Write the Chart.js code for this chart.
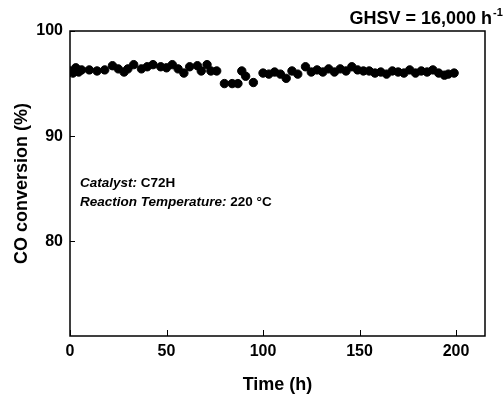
<!DOCTYPE html>
<html lang="en">
<head>
  <meta charset="UTF-8" />
  <title>CO conversion vs time</title>
  <script src="https://cdn.jsdelivr.net/npm/chart.js"></script>
  <style>
    html, body { margin: 0; padding: 0; background: #fff; }
    .chart-box { width: 504px; height: 397px; position: relative; }
  </style>
</head>
<body>
  <div class="chart-box">
    <canvas id="coChart"></canvas>
  </div>
  <script>
    // time on stream (h) and CO conversion (%)
    const timeH = [0, 1.5, 3, 4.5, 6, 10, 14, 18, 22, 25, 28, 30, 33, 37, 40, 43, 47, 50, 53, 56,
      59, 62, 66, 68, 71, 73, 76, 80, 84, 87, 89, 91, 95, 100, 103, 106, 109, 112, 115, 118,
      122, 125, 128, 131, 134, 137, 140, 143, 146, 149, 152, 155, 158, 161, 164, 167, 170,
      173, 176, 179, 182, 185, 188, 191, 194, 196, 199];
    const conversion = [96.2, 96.0, 96.5, 96.1, 96.3, 96.3, 96.2, 96.3, 96.7, 96.4, 96.1, 96.4,
      96.8, 96.4, 96.6, 96.8, 96.6, 96.5, 96.8, 96.4, 96.0, 96.6, 96.7, 96.2, 96.8, 96.2, 96.2,
      95.0, 95.0, 95.0, 96.2, 95.7, 95.1, 96.0, 95.9, 96.1, 95.9, 95.5, 96.2, 95.9, 96.6,
      96.1, 96.3, 96.1, 96.4, 96.1, 96.4, 96.2, 96.6, 96.3, 96.2, 96.2, 96.0, 96.1, 95.9,
      96.2, 96.1, 96.0, 96.3, 96.0, 96.2, 96.1, 96.3, 96.0, 95.8, 95.9, 96.0];
    const xTicks = [0, 50, 100, 150, 200];
    const yTicks = [80, 90, 100];

    const FONT = '"Liberation Sans", Arial, sans-serif';

    // frame, inward ticks and the text notes
    const framePlugin = {
      id: 'frame',
      afterDraw(chart) {
        const { ctx, chartArea: a, scales } = chart;
        ctx.save();
        ctx.strokeStyle = '#000';
        ctx.lineWidth = 1.5;
        ctx.strokeRect(a.left, a.top, a.right - a.left, a.bottom - a.top);
        ctx.lineWidth = 1;
        ctx.beginPath();
        xTicks.forEach(v => {
          const px = Math.round(scales.x.getPixelForValue(v)) + 0.5;
          ctx.moveTo(px, a.bottom);
          ctx.lineTo(px, a.bottom - 6);
        });
        yTicks.forEach(v => {
          const py = Math.round(scales.y.getPixelForValue(v)) + 0.5;
          ctx.moveTo(a.left, py);
          ctx.lineTo(a.left + 5, py);
        });
        ctx.stroke();

        ctx.fillStyle = '#000';
        ctx.textBaseline = 'alphabetic';
        ctx.textAlign = 'left';
        const tx = a.left + 10;
        ctx.font = 'italic bold 13.5px ' + FONT;
        ctx.fillText('Catalyst: ', tx, 187);
        let w = ctx.measureText('Catalyst: ').width;
        ctx.font = 'bold 13.5px ' + FONT;
        ctx.fillText('C72H', tx + w, 187);
        ctx.font = 'italic bold 13.5px ' + FONT;
        ctx.fillText('Reaction Temperature: ', tx, 206);
        w = ctx.measureText('Reaction Temperature: ').width;
        ctx.font = 'bold 13.5px ' + FONT;
        ctx.fillText('220 \u00B0C', tx + w, 206);

        ctx.font = 'bold 18px ' + FONT;
        ctx.textAlign = 'right';
        ctx.fillText('GHSV = 16,000 h', 492, 24);
        ctx.font = 'bold 11px ' + FONT;
        ctx.textAlign = 'left';
        ctx.fillText('-1', 493, 16);
        ctx.restore();
      }
    };

    const ctx = document.getElementById('coChart').getContext('2d');
    new Chart(ctx, {
      type: 'scatter',
      data: {
        datasets: [{
          data: timeH.map((t, i) => ({ x: t, y: conversion[i] })),
          backgroundColor: '#000',
          borderColor: '#000',
          pointRadius: 4.2,
          pointHoverRadius: 4.2,
          showLine: false
        }]
      },
      options: {
        responsive: true,
        maintainAspectRatio: false,
        animation: false,
        layout: { padding: { top: 31, right: 19, left: 0, bottom: 0 } },
        plugins: {
          legend: { display: false },
          tooltip: { enabled: false }
        },
        scales: {
          x: {
            type: 'linear',
            min: 0,
            max: 215,
            afterBuildTicks: s => { s.ticks = xTicks.map(v => ({ value: v })); },
            afterFit: s => { s.height = 61; },
            grid: { display: false, drawTicks: false },
            border: { display: false },
            ticks: {
              padding: 6,
              color: '#000',
              font: { family: FONT, size: 16, weight: 'bold' }
            },
            title: {
              display: true,
              text: 'Time (h)',
              color: '#000',
              padding: { top: 0, bottom: 1 },
              font: { family: FONT, size: 18, weight: 'bold' }
            }
          },
          y: {
            min: 71,
            max: 100,
            afterBuildTicks: s => { s.ticks = yTicks.map(v => ({ value: v })); },
            afterFit: s => { s.width = 70; },
            grid: { display: false, drawTicks: false },
            border: { display: false },
            ticks: {
              padding: 7,
              color: '#000',
              font: { family: FONT, size: 16, weight: 'bold' }
            },
            title: {
              display: true,
              text: 'CO conversion (%)',
              color: '#000',
              padding: { top: 11, bottom: 0 },
              font: { family: FONT, size: 18, weight: 'bold' }
            }
          }
        }
      },
      plugins: [framePlugin]
    });
  </script>
</body>
</html>
